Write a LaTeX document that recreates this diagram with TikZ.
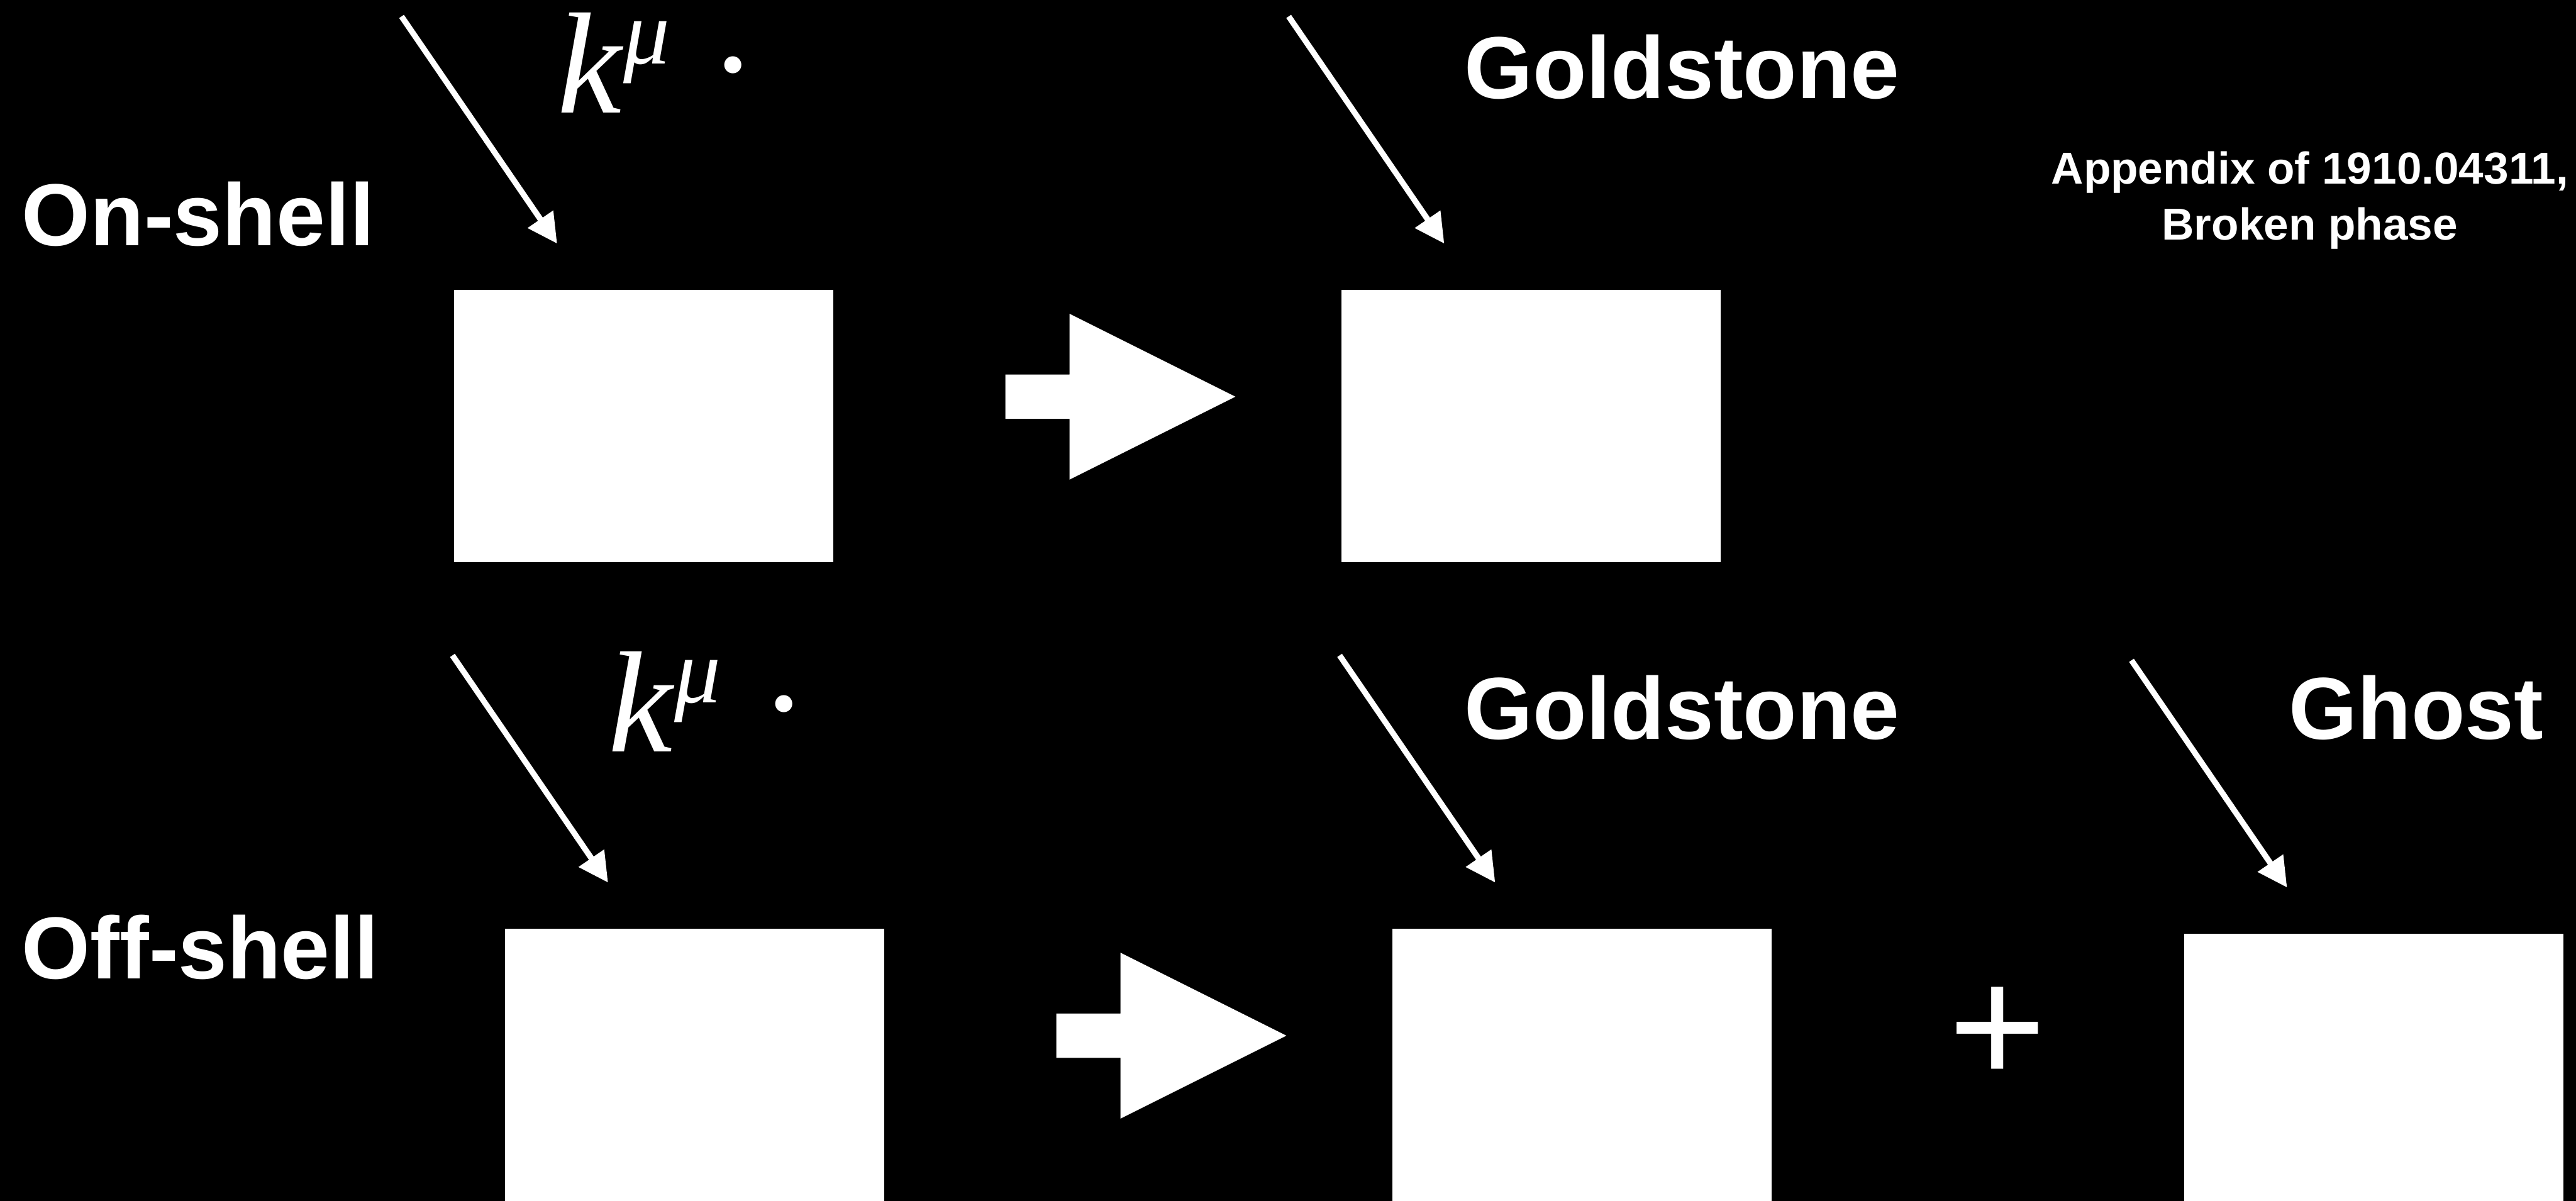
\documentclass[tikz,border=0pt]{standalone}
\usepackage{fontspec}
\setmainfont{Liberation Sans}
\newfontfamily\kfont{Liberation Serif}
\usetikzlibrary{arrows.meta}
\begin{document}
\begin{tikzpicture}[x=0.02cm,y=-0.02cm,
  box/.style={fill=white,draw=none,inner sep=0pt,anchor=north west,minimum width=4.62cm,minimum height=3.32cm},
  lbl/.style={text=white,inner sep=0pt,anchor=base west,font=\bfseries\fontsize{30.5}{36}\selectfont},
  note/.style={text=white,inner sep=0pt,anchor=base,font=\bfseries\fontsize{15.5}{19}\selectfont},
  kmu/.style={text=white,inner sep=0pt,anchor=base west,font=\kfont\fontsize{50}{60}\selectfont},
  ptr/.style={draw=white,line width=2pt,-{Triangle[length=0.36cm,width=0.36cm]}},
  fat/.style={fill=white,draw=none},
  plussign/.style={text=white,inner sep=0pt,font=\fontsize{58}{60}\selectfont}]
\fill[black] (0,0) rectangle (1568,731);
\useasboundingbox (0,0) rectangle (1568,731);

% row labels
\node[lbl] (on) at (13,149.5) {On-shell};
\node[lbl] (off) at (13,596) {Off-shell};

% boxes
\node[box] (b1) at (276,176) {};
\node[box] (b2) at (816,176) {};
\node[box] (b3) at (307,565) {};
\node[box] (b4) at (847,565) {};
\node[box] (b5) at (1329,568) {};

% k^mu labels
\node[kmu] (k1) at (339,68.7) {\textit{k}\raisebox{17pt}{\fontsize{32}{36}\selectfont\textit{μ}}\hspace{13.5pt}·};
\node[kmu] (k2) at (370,457.7) {\textit{k}\raisebox{17pt}{\fontsize{32}{36}\selectfont\textit{μ}}\hspace{13.5pt}·};

% other labels
\node[lbl] (g1) at (891,60) {Goldstone};
\node[lbl] (g2) at (891,450) {Goldstone};
\node[lbl] (gh) at (1393,450) {Ghost};
\node[note] (n1) at (1406,112) {Appendix of 1910.04311,};
\node[note] (n2) at (1406,146) {Broken phase};

% thin pointers
\coordinate (p1s) at (244.4,10);  \coordinate (p1e) at (339.1,148.3);
\coordinate (p2s) at (784.4,10);  \coordinate (p2e) at (879.1,148.3);
\coordinate (p3s) at (275.4,399); \coordinate (p3e) at (370.1,537.3);
\coordinate (p4s) at (815.4,399); \coordinate (p4e) at (910.1,537.3);
\coordinate (p5s) at (1297.4,402); \coordinate (p5e) at (1392.1,540.3);
\draw[ptr] (p1s) -- (p1e);
\draw[ptr] (p2s) -- (p2e);
\draw[ptr] (p3s) -- (p3e);
\draw[ptr] (p4s) -- (p4e);
\draw[ptr] (p5s) -- (p5e);

% fat arrows
\fill[fat] (612,228) -- (651,228) -- (651,191) -- (752,241.5) -- (651,292) -- (651,255) -- (612,255) -- cycle;
\fill[fat] (643,617) -- (682,617) -- (682,580) -- (783,630.5) -- (682,681) -- (682,644) -- (643,644) -- cycle;

% plus
\node[plussign] (plus) at (1215.7,630.5) {+};
\end{tikzpicture}
\end{document}
